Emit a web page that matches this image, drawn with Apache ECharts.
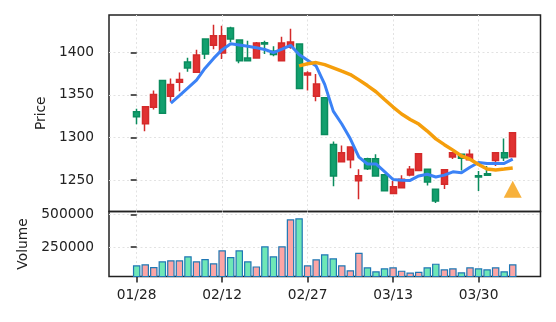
<!DOCTYPE html>
<html><head><meta charset="utf-8">
<script src="https://cdn.jsdelivr.net/npm/echarts@6/dist/echarts.min.js"></script>
<style>html,body{margin:0;padding:0;background:#fff}#c{width:556px;height:322px}</style>
</head><body><div id="c"></div>
<script>
const dates = ['01/28','01/29','01/30','01/31','02/03','02/04','02/05','02/06','02/07','02/10',
  '02/12','02/13','02/14','02/17','02/18','02/19','02/20','02/21','02/24','02/25',
  '02/27','02/28','03/03','03/04','03/05','03/06','03/07','03/10','03/11','03/12',
  '03/13','03/14','03/17','03/18','03/19','03/20','03/21','03/24','03/25','03/26',
  '03/30','03/31','04/01','04/02','04/03'];
const opens = [1330.1,1316.0,1335.5,1366.8,1348.4,1364.8,1388.7,1376.6,1415.6,1408.2,
  1399.2,1428.5,1414.4,1393.3,1393.3,1411.3,1401.2,1390.2,1405.8,1409.8,
  1373.4,1348.4,1346.5,1291.8,1271.5,1273.8,1249.2,1275.0,1275.0,1256.2,
  1234.0,1241.0,1255.9,1261.3,1262.5,1239.1,1244.9,1277.0,1280.1,1273.8,
  1255.1,1257.4,1273.0,1282.0,1277.3];
const closes = [1324.2,1335.9,1350.4,1328.5,1362.1,1368.0,1381.6,1396.9,1398.0,1419.5,
  1419.5,1415.6,1390.2,1390.2,1410.9,1409.8,1397.3,1410.9,1412.1,1357.4,
  1375.8,1362.9,1303.5,1254.7,1282.0,1288.7,1255.1,1263.3,1254.7,1237.5,
  1242.2,1250.8,1262.5,1280.9,1247.7,1225.4,1262.1,1282.0,1275.4,1280.1,
  1253.5,1255.5,1282.0,1276.2,1305.5];
const lows = [1315.6,1307.4,1332.8,1327.5,1341.8,1354.3,1377.0,1375.8,1392.2,1403.5,
  1392.2,1411.7,1387.1,1389.8,1392.6,1398.0,1395.3,1389.5,1404.3,1357.0,
  1355.1,1342.6,1303.0,1242.6,1270.5,1263.7,1227.3,1261.7,1254.2,1237.0,
  1233.5,1240.5,1254.3,1260.8,1243.4,1223.0,1239.5,1274.6,1261.3,1273.4,
  1237.1,1254.7,1266.4,1272.3,1276.9];
const highs = [1333.6,1336.5,1355.1,1367.5,1369.1,1376.2,1393.7,1403.1,1416.0,1432.4,
  1431.2,1430.1,1414.8,1413.7,1412.0,1413.7,1407.0,1418.4,1427.7,1410.5,
  1377.7,1374.6,1347.0,1295.3,1290.6,1289.5,1262.5,1276.0,1280.1,1256.6,
  1248.8,1255.5,1266.4,1281.3,1262.9,1239.5,1262.5,1282.4,1280.5,1285.9,
  1260.5,1266.4,1282.4,1298.8,1305.9];
const volumes = [108000,116000,95000,139000,147000,147000,178000,139000,157000,124000,
  224000,173000,224000,139000,100000,255000,178000,255000,464000,472000,
  108000,155000,193000,162000,108000,70000,206000,93000,62000,85000,
  93000,67000,52000,59000,93000,121000,77000,85000,54000,93000,
  85000,77000,93000,62000,116000];
const ma5Start = 4;
const ma5 = [1340.2,1349.0,1358.1,1367.4,1381.3,1392.8,1403.1,1409.9,1408.6,1407.0,
  1405.3,1403.3,1399.7,1403.8,1408.2,1397.5,1390.7,1383.8,1362.3,1330.9,
  1315.8,1298.4,1276.8,1268.8,1268.8,1259.9,1250.6,1249.7,1249.5,1254.8,
  1256.8,1253.5,1255.7,1259.6,1258.5,1265.0,1270.6,1269.3,1269.3,1269.5,1274.5];
const ma20Start = 19;
const ma20 = [1384.0,1386.5,1387.9,1385.5,1381.8,1377.8,1373.9,1367.6,1360.9,1353.7,
  1344.6,1335.7,1327.5,1321.1,1315.7,1307.5,1298.3,1291.5,1285.1,1278.2,
  1274.4,1268.3,1262.9,1261.8,1262.9,1264.1];
const xTickIdx = [0,10,20,30,40];
const priceTicks = [1250,1300,1350,1400];
const volTicks = [250000,500000];
const signalIdx = [44];
const signalPrice = [1239];

const UP = '#e03131', UPB = '#d42a2a', DN = '#12a06e', DNB = '#0b8c5e';
const VUP = '#fca5a5', VDN = '#6ee7b7';
const FONT = 'DejaVu Sans', FS = 13.8, TXT = '#222';
const split = {show:true, lineStyle:{color:'#e2e2e2', type:[2,2.5], width:1}};

const candleData = dates.map((d,i)=>[i, opens[i], closes[i], lows[i], highs[i]]);
const volData = dates.map((d,i)=>({value:[i, volumes[i]], itemStyle:{color: closes[i] >= opens[i] ? VUP : VDN}}));
const ma5Data = ma5.map((v,k)=>[ma5Start+k, v]);
const ma20Data = ma20.map((v,k)=>[ma20Start+k, v]);
const sigData = signalIdx.map((x,k)=>[x, signalPrice[k]]);

const xmin = -3.24, xmax = 47.25;
const plain = v => String(v);
const chart = echarts.init(document.getElementById('c'), null, {renderer:'canvas'});
chart.setOption({
  animation:false,
  backgroundColor:'#fff',
  grid:[
    {left:109, right:15.5, top:15, bottom:110.5, show:true, borderColor:'#222', borderWidth:1.5, backgroundColor:'transparent'},
    {left:109, right:15.5, top:211.5, bottom:45.5, show:true, borderColor:'#222', borderWidth:1.5, backgroundColor:'transparent'}
  ],
  xAxis:[
    {type:'value', gridIndex:0, min:xmin, max:xmax, axisLine:{show:false},
     axisTick:{show:false, customValues:xTickIdx}, axisLabel:{show:false, customValues:xTickIdx}, splitLine:split},
    {type:'value', gridIndex:1, min:xmin, max:xmax, axisLine:{show:false},
     axisTick:{show:true, customValues:xTickIdx, length:6, lineStyle:{color:'#222', width:1.5}},
     axisLabel:{customValues:xTickIdx, margin:12, fontFamily:FONT, fontSize:FS, color:TXT,
       formatter:v=>dates[Math.round(v)]||''},
     splitLine:split}
  ],
  yAxis:[
    {type:'value', gridIndex:0, min:1213.0, max:1443.8, axisLine:{show:false},
     axisTick:{show:true, customValues:priceTicks, length:6, lineStyle:{color:'#222', width:1.5}},
     axisLabel:{customValues:priceTicks, margin:15, fontFamily:FONT, fontSize:FS, color:TXT, formatter:plain},
     splitLine:split,
     name:'Price', nameLocation:'middle', nameGap:55, nameTextStyle:{fontFamily:FONT, fontSize:FS, color:TXT}},
    {type:'value', gridIndex:1, min:21670, max:524800, axisLine:{show:false},
     axisTick:{show:true, customValues:volTicks, length:6, lineStyle:{color:'#222', width:1.5}},
     axisLabel:{customValues:volTicks, margin:15, fontFamily:FONT, fontSize:FS, color:TXT, formatter:plain},
     splitLine:split,
     name:'Volume', nameLocation:'middle', nameGap:77, nameTextStyle:{fontFamily:FONT, fontSize:FS, color:TXT}}
  ],
  series:[
    {type:'candlestick', xAxisIndex:0, yAxisIndex:0, data:candleData, encode:{x:0, y:[1,2,3,4]},
     barWidth:6.5, itemStyle:{color:UP, color0:DN, borderColor:UPB, borderColor0:DNB, borderWidth:1.5}, z:2},
    {type:'line', xAxisIndex:0, yAxisIndex:0, data:ma5Data, showSymbol:false, symbol:'none',
     lineStyle:{color:'#3b82f6', width:3}, z:3},
    {type:'line', xAxisIndex:0, yAxisIndex:0, data:ma20Data, showSymbol:false, symbol:'none',
     lineStyle:{color:'#f59e0b', width:3.5}, z:4},
    {type:'scatter', xAxisIndex:0, yAxisIndex:0, data:sigData, symbol:'triangle', symbolSize:[18,17],
     itemStyle:{color:'#f59e0b'}, z:5},
    {type:'bar', xAxisIndex:1, yAxisIndex:1, data:volData, barWidth:7.5,
     itemStyle:{borderColor:'#1f77b4', borderWidth:1.2}}
  ]
});
</script></body></html>
